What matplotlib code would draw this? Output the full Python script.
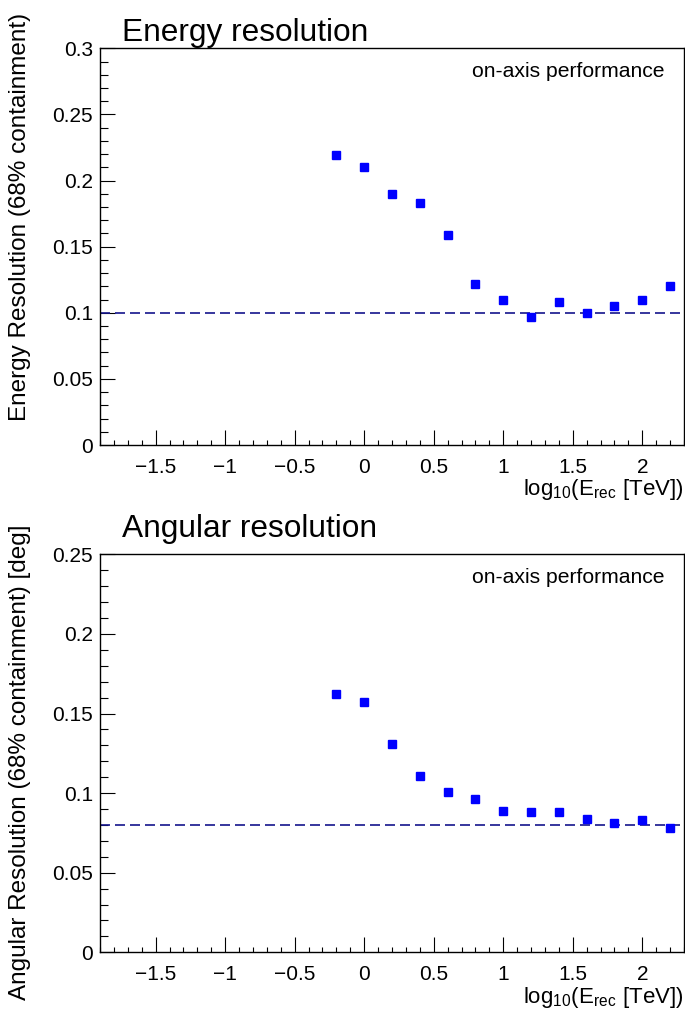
import numpy as np
import matplotlib
matplotlib.use("Agg")
import matplotlib.pyplot as plt
from matplotlib.ticker import MultipleLocator, FuncFormatter

plt.rcParams["font.family"] = ["Liberation Sans", "DejaVu Sans"]

log_e = [-0.2, 0.0, 0.2, 0.4, 0.6, 0.8, 1.0, 1.2, 1.4, 1.6, 1.8, 2.0, 2.2]
energy_res = [0.219, 0.210, 0.190, 0.183, 0.159, 0.122, 0.110, 0.097,
              0.108, 0.100, 0.105, 0.110, 0.120]
angular_res = [0.162, 0.157, 0.131, 0.111, 0.101, 0.096, 0.089, 0.088,
               0.088, 0.084, 0.081, 0.083, 0.078]
energy_goal = 0.1
angular_goal = 0.08

W, H = 685, 1011
fig = plt.figure(figsize=(W / 100, H / 100), dpi=100)


def frac(x0, y0, x1, y1):
    return [x0 / W, 1 - y1 / H, (x1 - x0) / W, (y1 - y0) / H]


def fmt(v, pos):
    return ("%g" % round(v, 4)).replace("-", "\u2212")


panels = [
    dict(rect=frac(100, 48.3, 684, 445), y=energy_res, goal=energy_goal,
         ymax=0.3, title="Energy resolution", title_y=41.5,
         ylabel="Energy Resolution (68% containment)", ylabel_y=217,
         note_y=77, xlabel_y=495),
    dict(rect=frac(100, 554.3, 684, 952.3), y=angular_res, goal=angular_goal,
         ymax=0.25, title="Angular resolution", title_y=537,
         ylabel="Angular Resolution (68% containment) [deg]", ylabel_y=762,
         note_y=583, xlabel_y=1003),
]

for p in panels:
    ax = fig.add_axes(p["rect"])
    ax.axhline(p["goal"], color="#14148c", lw=1.2, dashes=(6, 3))
    ax.plot(log_e, p["y"], "s", color="#0000ff", ms=5.8, mec="#0000ff",
            clip_on=False)
    ax.set_xlim(-1.9, 2.3)
    ax.set_ylim(0, p["ymax"])
    ax.xaxis.set_major_locator(MultipleLocator(0.5))
    ax.xaxis.set_minor_locator(MultipleLocator(0.1))
    ax.yaxis.set_major_locator(MultipleLocator(0.05))
    ax.yaxis.set_minor_locator(MultipleLocator(0.01))
    ax.xaxis.set_major_formatter(FuncFormatter(fmt))
    ax.yaxis.set_major_formatter(FuncFormatter(fmt))
    ax.tick_params(axis="both", which="both", direction="in",
                   top=False, right=False, width=0.8, labelsize=15)
    ax.tick_params(axis="x", which="major", length=10.5, pad=9)
    ax.tick_params(axis="x", which="minor", length=3.5)
    ax.tick_params(axis="y", which="major", length=10.5, pad=5)
    ax.tick_params(axis="y", which="minor", length=6)
    for s in ax.spines.values():
        s.set_linewidth(1.0)

    fig.text(122 / W, 1 - p["title_y"] / H, p["title"], fontsize=22.8,
             va="baseline", ha="left")
    fig.text(665 / W, 1 - p["note_y"] / H, "on-axis performance",
             fontsize=15.2, va="baseline", ha="right")
    fig.text(684 / W, 1 - p["xlabel_y"] / H,
             r"$\mathregular{log_{10}(E_{rec}\ [TeV])}$",
             fontsize=16, va="baseline", ha="right")
    fig.text(20 / W, 1 - p["ylabel_y"] / H, p["ylabel"], fontsize=17.5,
             rotation=90, va="center", ha="center")

fig.savefig("out.png", dpi=100)
